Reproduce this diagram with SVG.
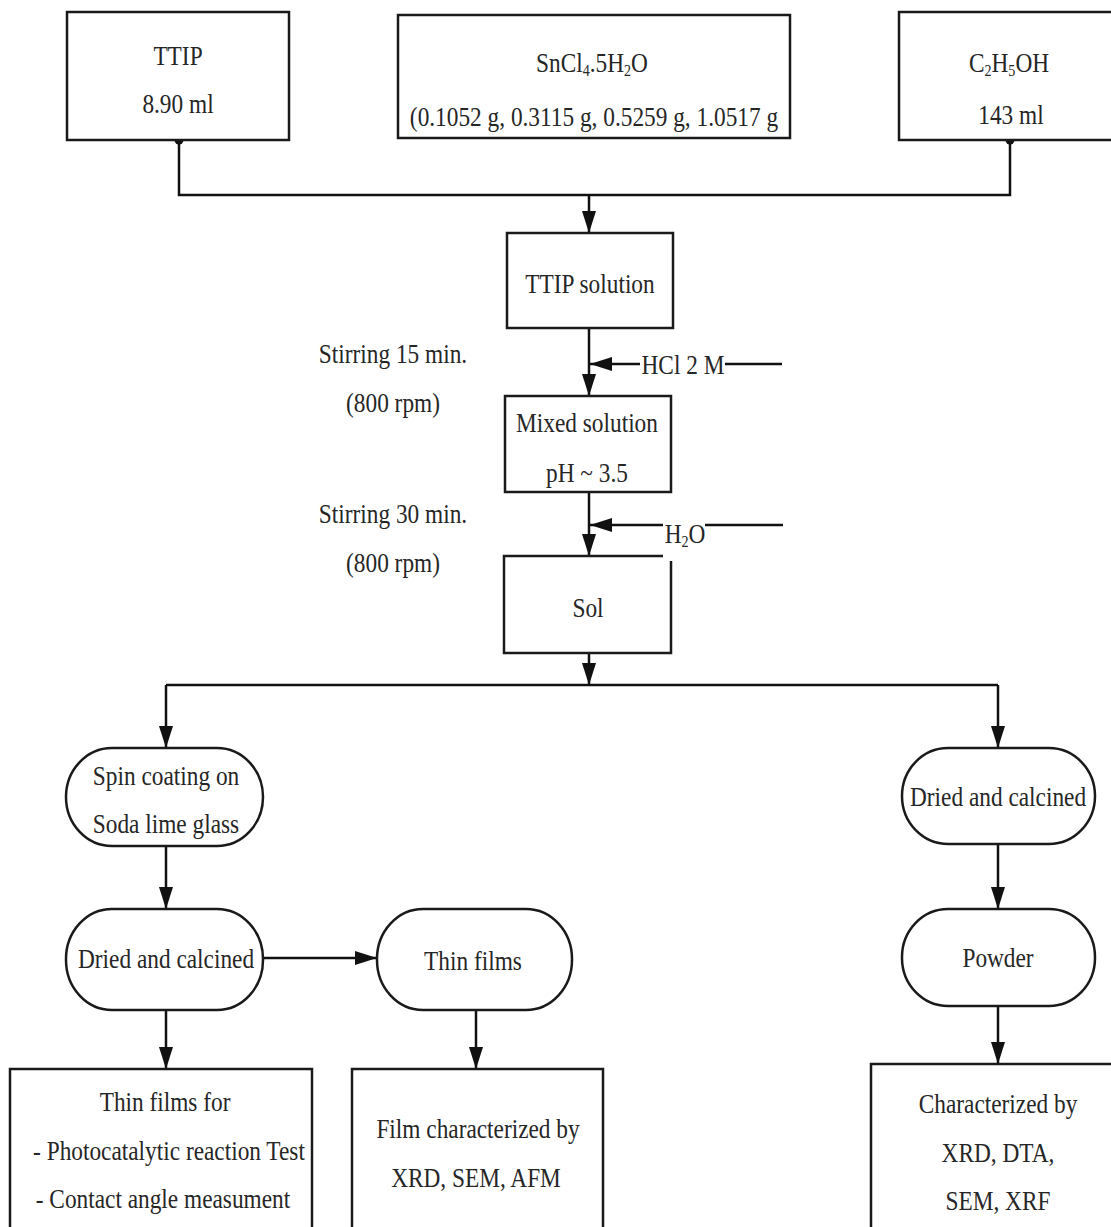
<svg xmlns="http://www.w3.org/2000/svg" width="1111" height="1227" viewBox="0 0 1111 1227">
<defs>
<marker id="ah" markerUnits="userSpaceOnUse" markerWidth="22" markerHeight="14" refX="22" refY="7" orient="auto">
<path d="M0,0 L22,7 L0,14 z" fill="#111"/>
</marker>
<style>
.box{fill:#fff;stroke:#1a1a1a;stroke-width:2.5}
.ln{fill:none;stroke:#111;stroke-width:2.5}
.ar{fill:none;stroke:#111;stroke-width:2.5;marker-end:url(#ah)}
text{font-family:"Liberation Serif","Times New Roman",serif;font-size:26.5px;fill:#262626;text-anchor:middle;transform-box:fill-box;transform-origin:center;transform:scaleX(0.88)}
.sub{font-size:16px}
</style>
</defs>
<rect width="1111" height="1227" fill="#fff"/>

<g id="connectors">
<path class="ln" d="M179,140 V195 H1010 V140"/>
<circle cx="179" cy="140" r="4.5" fill="#111"/>
<circle cx="1010" cy="140" r="4.5" fill="#111"/>
<path class="ar" d="M589,195 V233"/>
<path class="ar" d="M589,328 V396"/>
<path class="ar" d="M640,364 H590"/>
<path class="ln" d="M725,364 H782"/>
<path class="ar" d="M589,492 V556"/>
<path class="ar" d="M663,525 H590"/>
<path class="ln" d="M705,525 H783"/>
<path class="ar" d="M589,653 V685"/>
<path class="ln" d="M166,685 H998"/>
<path class="ar" d="M166,685 V748"/>
<path class="ar" d="M998,685 V748"/>
<path class="ar" d="M166,846 V909"/>
<path class="ar" d="M263,958 H377"/>
<path class="ar" d="M166,1010 V1069"/>
<path class="ar" d="M476,1010 V1069"/>
<path class="ar" d="M998,844 V909"/>
<path class="ar" d="M998,1006 V1064"/>
</g>

<g id="ttip">
<rect class="box" x="67" y="12" width="222" height="128"/>
<text x="178" y="65">TTIP</text>
<text x="178" y="113">8.90 ml</text>
</g>

<g id="sncl4">
<rect class="box" x="398" y="15" width="392" height="123"/>
<text x="592" y="72">SnCl<tspan class="sub" dy="4">4</tspan><tspan dy="-4">.5H</tspan><tspan class="sub" dy="4">2</tspan><tspan dy="-4">O</tspan></text>
<text x="594" y="126">(0.1052 g, 0.3115 g, 0.5259 g, 1.0517 g</text>
</g>

<g id="ethanol">
<rect class="box" x="899" y="12" width="230" height="128"/>
<text x="1009" y="72">C<tspan class="sub" dy="4">2</tspan><tspan dy="-4">H</tspan><tspan class="sub" dy="4">5</tspan><tspan dy="-4">OH</tspan></text>
<text x="1011" y="124">143 ml</text>
</g>

<g id="ttip-solution">
<rect class="box" x="507" y="233" width="166" height="95"/>
<text x="590" y="293">TTIP solution</text>
</g>

<g id="hcl-label">
<text x="683" y="374">HCl 2 M</text>
</g>

<g id="stirring1">
<text x="393" y="363">Stirring 15 min.</text>
<text x="393" y="412">(800 rpm)</text>
</g>

<g id="mixed-solution">
<rect class="box" x="505" y="396" width="166" height="96"/>
<text x="587" y="432">Mixed solution</text>
<text x="587" y="482">pH ~ 3.5</text>
</g>

<g id="h2o-label">
<text x="685" y="543">H<tspan class="sub" dy="4">2</tspan><tspan dy="-4">O</tspan></text>
</g>

<g id="stirring2">
<text x="393" y="523">Stirring 30 min.</text>
<text x="393" y="572">(800 rpm)</text>
</g>

<g id="sol">
<path class="box" d="M663,556 H504 V653 H671 V561"/>
<text x="588" y="617">Sol</text>
</g>

<g id="spin-coating">
<rect class="box" x="66" y="748" width="197" height="98" rx="46" ry="49"/>
<text x="166" y="785">Spin coating on</text>
<text x="166" y="833">Soda lime glass</text>
</g>

<g id="dried-left">
<rect class="box" x="66" y="909" width="197" height="101" rx="46" ry="50"/>
<text x="166" y="968">Dried and calcined</text>
</g>

<g id="thin-films">
<rect class="box" x="377" y="909" width="195" height="101" rx="46" ry="50"/>
<text x="473" y="970">Thin films</text>
</g>

<g id="thin-films-for">
<rect class="box" x="10" y="1069" width="302" height="180"/>
<text x="165" y="1111">Thin films for</text>
<text x="169" y="1160">- Photocatalytic reaction Test</text>
<text x="163" y="1208">- Contact angle measument</text>
</g>

<g id="film-characterized">
<rect class="box" x="352" y="1069" width="251" height="180"/>
<text x="478" y="1138">Film characterized by</text>
<text x="476" y="1187">XRD, SEM, AFM</text>
</g>

<g id="dried-right">
<rect class="box" x="902" y="748" width="193" height="96" rx="46" ry="48"/>
<text x="998" y="806">Dried and calcined</text>
</g>

<g id="powder">
<rect class="box" x="902" y="909" width="193" height="97" rx="46" ry="48"/>
<text x="998" y="967">Powder</text>
</g>

<g id="characterized">
<rect class="box" x="871" y="1064" width="260" height="180"/>
<text x="998" y="1113">Characterized by</text>
<text x="998" y="1162">XRD, DTA,</text>
<text x="998" y="1210">SEM, XRF</text>
</g>
</svg>
